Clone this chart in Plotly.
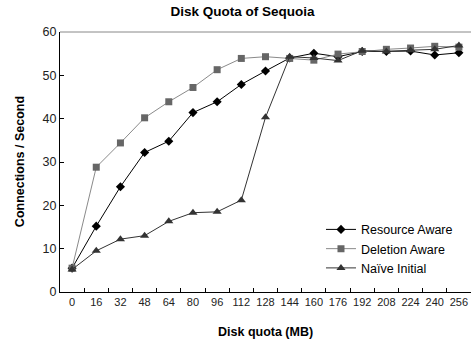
import plotly.graph_objects as go

quota = ["0", "16", "32", "48", "64", "80", "96", "112", "128", "144",
         "160", "176", "192", "208", "224", "240", "256"]
resource_aware = [5.5, 15.2, 24.3, 32.2, 34.8, 41.4, 43.9, 47.9, 51.0, 54.0,
                  55.1, 54.3, 55.5, 55.5, 55.6, 54.7, 55.2]
deletion_aware = [5.5, 28.8, 34.4, 40.2, 43.9, 47.2, 51.3, 53.9, 54.3, 53.9,
                  53.5, 54.9, 55.5, 56.0, 56.3, 56.7, 56.5]
naive_initial = [5.2, 9.5, 12.2, 13.0, 16.3, 18.3, 18.5, 21.2, 40.3, 54.3,
                 54.0, 53.4, 55.7, 55.5, 55.8, 56.0, 56.9]

font = "Liberation Sans, Arial, sans-serif"

fig = go.Figure()
fig.add_trace(go.Scatter(
    x=quota, y=resource_aware, name="Resource Aware", mode="lines+markers",
    line=dict(color="#000000", width=1),
    marker=dict(symbol="diamond", size=7, color="#000000")))
fig.add_trace(go.Scatter(
    x=quota, y=deletion_aware, name="Deletion Aware", mode="lines+markers",
    line=dict(color="#8a8a8a", width=1),
    marker=dict(symbol="square", size=7, color="#666666")))
fig.add_trace(go.Scatter(
    x=quota, y=naive_initial, name="Naïve Initial", mode="lines+markers",
    line=dict(color="#333333", width=1),
    marker=dict(symbol="triangle-up", size=8, color="#333333")))

fig.update_layout(
    width=471, height=340,
    margin=dict(l=60, r=0, t=32, b=48),
    paper_bgcolor="white", plot_bgcolor="white",
    font=dict(family=font, size=11, color="#000000"),
    title=dict(text="<b>Disk Quota of Sequoia</b>", x=0.515, xanchor="center",
               y=0.967, yanchor="middle", font=dict(size=13.5, family=font)),
    showlegend=True,
    legend=dict(x=0.635, y=0.297, xanchor="left", yanchor="top",
                bgcolor="rgba(0,0,0,0)", font=dict(size=12.5, family=font),
                itemwidth=30, tracegroupgap=0),
    xaxis=dict(
        type="category", range=[-0.5, 16.5], tickson="boundaries",
        tickangle=0, automargin=False,
        showline=True, linecolor="#000000", linewidth=1,
        ticks="inside", ticklen=4, tickcolor="#000000",
        showgrid=False, zeroline=False,
        tickfont=dict(size=11, color="#222222")),
    yaxis=dict(
        range=[0, 60], dtick=10, automargin=False,
        showline=True, linecolor="#000000", linewidth=1,
        ticks="inside", ticklen=4, tickcolor="#000000",
        showgrid=False, zeroline=False,
        tickfont=dict(size=12.5, color="#222222")),
    annotations=[
        dict(text="<b>Disk quota (MB)</b>", xref="paper", yref="paper",
             x=0.5, y=-0.153, xanchor="center", yanchor="middle",
             showarrow=False, font=dict(size=12.5, family=font)),
        dict(text="<b>Connections / Second</b>", xref="paper", yref="paper",
             x=-0.097, y=0.5, xanchor="center", yanchor="middle", textangle=-90,
             showarrow=False, font=dict(size=12.5, family=font)),
    ],
    shapes=[dict(type="line", xref="paper", yref="paper", x0=0, x1=1, y0=1, y1=1,
                 line=dict(color="#888888", width=1))],
)

fig.write_html("out.html", config={"displayModeBar": False},
               post_script="document.body.style.margin='0';document.body.style.overflow='hidden';")
